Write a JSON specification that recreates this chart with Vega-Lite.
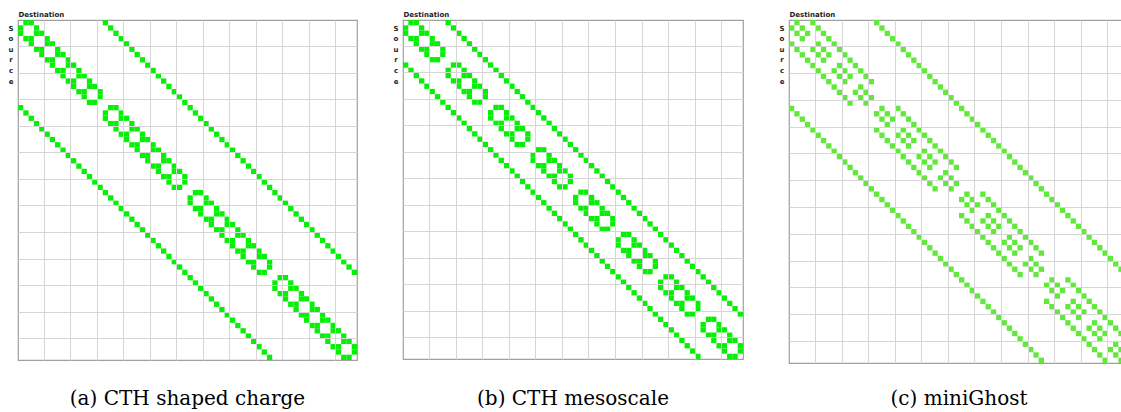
{
"$schema": "https://vega.github.io/schema/vega-lite/v6.json",
"background": "white",
"padding": {"left": 7, "top": 9, "right": 0, "bottom": 0},
"spacing": 34,
"config": {
  "view": {"stroke": "#a0a0a0", "strokeWidth": 1.2},
  "title": {"font": "DejaVu Serif", "fontSize": 20, "fontWeight": "normal", "color": "#000000", "orient": "bottom", "offset": 29},
  "axis": {"grid": true, "gridColor": "#d6d6d6", "gridWidth": 1, "labels": false, "ticks": false, "domain": false, "titleFont": "DejaVu Sans", "titleFontSize": 7, "titleFontWeight": "bold", "titleColor": "#222222"}
},
"datasets": {
"a": [
{"s":0,"d":1},{"s":0,"d":2},{"s":0,"d":16},
{"s":1,"d":0},{"s":1,"d":3},{"s":1,"d":17},
{"s":2,"d":3},{"s":2,"d":0},{"s":2,"d":4},{"s":2,"d":18},
{"s":3,"d":2},{"s":3,"d":1},{"s":3,"d":5},{"s":3,"d":19},
{"s":4,"d":5},{"s":4,"d":2},{"s":4,"d":6},{"s":4,"d":20},
{"s":5,"d":4},{"s":5,"d":3},{"s":5,"d":7},{"s":5,"d":21},
{"s":6,"d":7},{"s":6,"d":4},{"s":6,"d":8},{"s":6,"d":22},
{"s":7,"d":6},{"s":7,"d":5},{"s":7,"d":9},{"s":7,"d":23},
{"s":8,"d":9},{"s":8,"d":6},{"s":8,"d":10},{"s":8,"d":24},
{"s":9,"d":8},{"s":9,"d":7},{"s":9,"d":11},{"s":9,"d":25},
{"s":10,"d":11},{"s":10,"d":8},{"s":10,"d":12},{"s":10,"d":26},
{"s":11,"d":10},{"s":11,"d":9},{"s":11,"d":13},{"s":11,"d":27},
{"s":12,"d":13},{"s":12,"d":10},{"s":12,"d":14},{"s":12,"d":28},
{"s":13,"d":12},{"s":13,"d":11},{"s":13,"d":15},{"s":13,"d":29},
{"s":14,"d":15},{"s":14,"d":12},{"s":14,"d":30},
{"s":15,"d":14},{"s":15,"d":13},{"s":15,"d":31},
{"s":16,"d":17},{"s":16,"d":18},{"s":16,"d":0},{"s":16,"d":32},
{"s":17,"d":16},{"s":17,"d":19},{"s":17,"d":1},{"s":17,"d":33},
{"s":18,"d":19},{"s":18,"d":16},{"s":18,"d":20},{"s":18,"d":2},{"s":18,"d":34},
{"s":19,"d":18},{"s":19,"d":17},{"s":19,"d":21},{"s":19,"d":3},{"s":19,"d":35},
{"s":20,"d":21},{"s":20,"d":18},{"s":20,"d":22},{"s":20,"d":4},{"s":20,"d":36},
{"s":21,"d":20},{"s":21,"d":19},{"s":21,"d":23},{"s":21,"d":5},{"s":21,"d":37},
{"s":22,"d":23},{"s":22,"d":20},{"s":22,"d":24},{"s":22,"d":6},{"s":22,"d":38},
{"s":23,"d":22},{"s":23,"d":21},{"s":23,"d":25},{"s":23,"d":7},{"s":23,"d":39},
{"s":24,"d":25},{"s":24,"d":22},{"s":24,"d":26},{"s":24,"d":8},{"s":24,"d":40},
{"s":25,"d":24},{"s":25,"d":23},{"s":25,"d":27},{"s":25,"d":9},{"s":25,"d":41},
{"s":26,"d":27},{"s":26,"d":24},{"s":26,"d":28},{"s":26,"d":10},{"s":26,"d":42},
{"s":27,"d":26},{"s":27,"d":25},{"s":27,"d":29},{"s":27,"d":11},{"s":27,"d":43},
{"s":28,"d":29},{"s":28,"d":26},{"s":28,"d":30},{"s":28,"d":12},{"s":28,"d":44},
{"s":29,"d":28},{"s":29,"d":27},{"s":29,"d":31},{"s":29,"d":13},{"s":29,"d":45},
{"s":30,"d":31},{"s":30,"d":28},{"s":30,"d":14},{"s":30,"d":46},
{"s":31,"d":30},{"s":31,"d":29},{"s":31,"d":15},{"s":31,"d":47},
{"s":32,"d":33},{"s":32,"d":34},{"s":32,"d":16},{"s":32,"d":48},
{"s":33,"d":32},{"s":33,"d":35},{"s":33,"d":17},{"s":33,"d":49},
{"s":34,"d":35},{"s":34,"d":32},{"s":34,"d":36},{"s":34,"d":18},{"s":34,"d":50},
{"s":35,"d":34},{"s":35,"d":33},{"s":35,"d":37},{"s":35,"d":19},{"s":35,"d":51},
{"s":36,"d":37},{"s":36,"d":34},{"s":36,"d":38},{"s":36,"d":20},{"s":36,"d":52},
{"s":37,"d":36},{"s":37,"d":35},{"s":37,"d":39},{"s":37,"d":21},{"s":37,"d":53},
{"s":38,"d":39},{"s":38,"d":36},{"s":38,"d":40},{"s":38,"d":22},{"s":38,"d":54},
{"s":39,"d":38},{"s":39,"d":37},{"s":39,"d":41},{"s":39,"d":23},{"s":39,"d":55},
{"s":40,"d":41},{"s":40,"d":38},{"s":40,"d":42},{"s":40,"d":24},{"s":40,"d":56},
{"s":41,"d":40},{"s":41,"d":39},{"s":41,"d":43},{"s":41,"d":25},{"s":41,"d":57},
{"s":42,"d":43},{"s":42,"d":40},{"s":42,"d":44},{"s":42,"d":26},{"s":42,"d":58},
{"s":43,"d":42},{"s":43,"d":41},{"s":43,"d":45},{"s":43,"d":27},{"s":43,"d":59},
{"s":44,"d":45},{"s":44,"d":42},{"s":44,"d":46},{"s":44,"d":28},{"s":44,"d":60},
{"s":45,"d":44},{"s":45,"d":43},{"s":45,"d":47},{"s":45,"d":29},{"s":45,"d":61},
{"s":46,"d":47},{"s":46,"d":44},{"s":46,"d":30},{"s":46,"d":62},
{"s":47,"d":46},{"s":47,"d":45},{"s":47,"d":31},{"s":47,"d":63},
{"s":48,"d":49},{"s":48,"d":50},{"s":48,"d":32},
{"s":49,"d":48},{"s":49,"d":51},{"s":49,"d":33},
{"s":50,"d":51},{"s":50,"d":48},{"s":50,"d":52},{"s":50,"d":34},
{"s":51,"d":50},{"s":51,"d":49},{"s":51,"d":53},{"s":51,"d":35},
{"s":52,"d":53},{"s":52,"d":50},{"s":52,"d":54},{"s":52,"d":36},
{"s":53,"d":52},{"s":53,"d":51},{"s":53,"d":55},{"s":53,"d":37},
{"s":54,"d":55},{"s":54,"d":52},{"s":54,"d":56},{"s":54,"d":38},
{"s":55,"d":54},{"s":55,"d":53},{"s":55,"d":57},{"s":55,"d":39},
{"s":56,"d":57},{"s":56,"d":54},{"s":56,"d":58},{"s":56,"d":40},
{"s":57,"d":56},{"s":57,"d":55},{"s":57,"d":59},{"s":57,"d":41},
{"s":58,"d":59},{"s":58,"d":56},{"s":58,"d":60},{"s":58,"d":42},
{"s":59,"d":58},{"s":59,"d":57},{"s":59,"d":61},{"s":59,"d":43},
{"s":60,"d":61},{"s":60,"d":58},{"s":60,"d":62},{"s":60,"d":44},
{"s":61,"d":60},{"s":61,"d":59},{"s":61,"d":63},{"s":61,"d":45},
{"s":62,"d":63},{"s":62,"d":60},{"s":62,"d":46},
{"s":63,"d":62},{"s":63,"d":61},{"s":63,"d":47}
],
"b": [
{"s":0,"d":1},{"s":0,"d":2},{"s":0,"d":8},
{"s":1,"d":0},{"s":1,"d":3},{"s":1,"d":9},
{"s":2,"d":3},{"s":2,"d":0},{"s":2,"d":4},{"s":2,"d":10},
{"s":3,"d":2},{"s":3,"d":1},{"s":3,"d":5},{"s":3,"d":11},
{"s":4,"d":5},{"s":4,"d":2},{"s":4,"d":6},{"s":4,"d":12},
{"s":5,"d":4},{"s":5,"d":3},{"s":5,"d":7},{"s":5,"d":13},
{"s":6,"d":7},{"s":6,"d":4},{"s":6,"d":14},
{"s":7,"d":6},{"s":7,"d":5},{"s":7,"d":15},
{"s":8,"d":9},{"s":8,"d":10},{"s":8,"d":0},{"s":8,"d":16},
{"s":9,"d":8},{"s":9,"d":11},{"s":9,"d":1},{"s":9,"d":17},
{"s":10,"d":11},{"s":10,"d":8},{"s":10,"d":12},{"s":10,"d":2},{"s":10,"d":18},
{"s":11,"d":10},{"s":11,"d":9},{"s":11,"d":13},{"s":11,"d":3},{"s":11,"d":19},
{"s":12,"d":13},{"s":12,"d":10},{"s":12,"d":14},{"s":12,"d":4},{"s":12,"d":20},
{"s":13,"d":12},{"s":13,"d":11},{"s":13,"d":15},{"s":13,"d":5},{"s":13,"d":21},
{"s":14,"d":15},{"s":14,"d":12},{"s":14,"d":6},{"s":14,"d":22},
{"s":15,"d":14},{"s":15,"d":13},{"s":15,"d":7},{"s":15,"d":23},
{"s":16,"d":17},{"s":16,"d":18},{"s":16,"d":8},{"s":16,"d":24},
{"s":17,"d":16},{"s":17,"d":19},{"s":17,"d":9},{"s":17,"d":25},
{"s":18,"d":19},{"s":18,"d":16},{"s":18,"d":20},{"s":18,"d":10},{"s":18,"d":26},
{"s":19,"d":18},{"s":19,"d":17},{"s":19,"d":21},{"s":19,"d":11},{"s":19,"d":27},
{"s":20,"d":21},{"s":20,"d":18},{"s":20,"d":22},{"s":20,"d":12},{"s":20,"d":28},
{"s":21,"d":20},{"s":21,"d":19},{"s":21,"d":23},{"s":21,"d":13},{"s":21,"d":29},
{"s":22,"d":23},{"s":22,"d":20},{"s":22,"d":14},{"s":22,"d":30},
{"s":23,"d":22},{"s":23,"d":21},{"s":23,"d":15},{"s":23,"d":31},
{"s":24,"d":25},{"s":24,"d":26},{"s":24,"d":16},{"s":24,"d":32},
{"s":25,"d":24},{"s":25,"d":27},{"s":25,"d":17},{"s":25,"d":33},
{"s":26,"d":27},{"s":26,"d":24},{"s":26,"d":28},{"s":26,"d":18},{"s":26,"d":34},
{"s":27,"d":26},{"s":27,"d":25},{"s":27,"d":29},{"s":27,"d":19},{"s":27,"d":35},
{"s":28,"d":29},{"s":28,"d":26},{"s":28,"d":30},{"s":28,"d":20},{"s":28,"d":36},
{"s":29,"d":28},{"s":29,"d":27},{"s":29,"d":31},{"s":29,"d":21},{"s":29,"d":37},
{"s":30,"d":31},{"s":30,"d":28},{"s":30,"d":22},{"s":30,"d":38},
{"s":31,"d":30},{"s":31,"d":29},{"s":31,"d":23},{"s":31,"d":39},
{"s":32,"d":33},{"s":32,"d":34},{"s":32,"d":24},{"s":32,"d":40},
{"s":33,"d":32},{"s":33,"d":35},{"s":33,"d":25},{"s":33,"d":41},
{"s":34,"d":35},{"s":34,"d":32},{"s":34,"d":36},{"s":34,"d":26},{"s":34,"d":42},
{"s":35,"d":34},{"s":35,"d":33},{"s":35,"d":37},{"s":35,"d":27},{"s":35,"d":43},
{"s":36,"d":37},{"s":36,"d":34},{"s":36,"d":38},{"s":36,"d":28},{"s":36,"d":44},
{"s":37,"d":36},{"s":37,"d":35},{"s":37,"d":39},{"s":37,"d":29},{"s":37,"d":45},
{"s":38,"d":39},{"s":38,"d":36},{"s":38,"d":30},{"s":38,"d":46},
{"s":39,"d":38},{"s":39,"d":37},{"s":39,"d":31},{"s":39,"d":47},
{"s":40,"d":41},{"s":40,"d":42},{"s":40,"d":32},{"s":40,"d":48},
{"s":41,"d":40},{"s":41,"d":43},{"s":41,"d":33},{"s":41,"d":49},
{"s":42,"d":43},{"s":42,"d":40},{"s":42,"d":44},{"s":42,"d":34},{"s":42,"d":50},
{"s":43,"d":42},{"s":43,"d":41},{"s":43,"d":45},{"s":43,"d":35},{"s":43,"d":51},
{"s":44,"d":45},{"s":44,"d":42},{"s":44,"d":46},{"s":44,"d":36},{"s":44,"d":52},
{"s":45,"d":44},{"s":45,"d":43},{"s":45,"d":47},{"s":45,"d":37},{"s":45,"d":53},
{"s":46,"d":47},{"s":46,"d":44},{"s":46,"d":38},{"s":46,"d":54},
{"s":47,"d":46},{"s":47,"d":45},{"s":47,"d":39},{"s":47,"d":55},
{"s":48,"d":49},{"s":48,"d":50},{"s":48,"d":40},{"s":48,"d":56},
{"s":49,"d":48},{"s":49,"d":51},{"s":49,"d":41},{"s":49,"d":57},
{"s":50,"d":51},{"s":50,"d":48},{"s":50,"d":52},{"s":50,"d":42},{"s":50,"d":58},
{"s":51,"d":50},{"s":51,"d":49},{"s":51,"d":53},{"s":51,"d":43},{"s":51,"d":59},
{"s":52,"d":53},{"s":52,"d":50},{"s":52,"d":54},{"s":52,"d":44},{"s":52,"d":60},
{"s":53,"d":52},{"s":53,"d":51},{"s":53,"d":55},{"s":53,"d":45},{"s":53,"d":61},
{"s":54,"d":55},{"s":54,"d":52},{"s":54,"d":46},{"s":54,"d":62},
{"s":55,"d":54},{"s":55,"d":53},{"s":55,"d":47},{"s":55,"d":63},
{"s":56,"d":57},{"s":56,"d":58},{"s":56,"d":48},
{"s":57,"d":56},{"s":57,"d":59},{"s":57,"d":49},
{"s":58,"d":59},{"s":58,"d":56},{"s":58,"d":60},{"s":58,"d":50},
{"s":59,"d":58},{"s":59,"d":57},{"s":59,"d":61},{"s":59,"d":51},
{"s":60,"d":61},{"s":60,"d":58},{"s":60,"d":62},{"s":60,"d":52},
{"s":61,"d":60},{"s":61,"d":59},{"s":61,"d":63},{"s":61,"d":53},
{"s":62,"d":63},{"s":62,"d":60},{"s":62,"d":54},
{"s":63,"d":62},{"s":63,"d":61},{"s":63,"d":55}
],
"c": [
{"s":0,"d":1},{"s":0,"d":4},{"s":0,"d":16},
{"s":1,"d":0},{"s":1,"d":2},{"s":1,"d":5},{"s":1,"d":17},
{"s":2,"d":1},{"s":2,"d":3},{"s":2,"d":6},{"s":2,"d":18},
{"s":3,"d":2},{"s":3,"d":7},{"s":3,"d":19},
{"s":4,"d":5},{"s":4,"d":0},{"s":4,"d":8},{"s":4,"d":20},
{"s":5,"d":4},{"s":5,"d":6},{"s":5,"d":1},{"s":5,"d":9},{"s":5,"d":21},
{"s":6,"d":5},{"s":6,"d":7},{"s":6,"d":2},{"s":6,"d":10},{"s":6,"d":22},
{"s":7,"d":6},{"s":7,"d":3},{"s":7,"d":11},{"s":7,"d":23},
{"s":8,"d":9},{"s":8,"d":4},{"s":8,"d":12},{"s":8,"d":24},
{"s":9,"d":8},{"s":9,"d":10},{"s":9,"d":5},{"s":9,"d":13},{"s":9,"d":25},
{"s":10,"d":9},{"s":10,"d":11},{"s":10,"d":6},{"s":10,"d":14},{"s":10,"d":26},
{"s":11,"d":10},{"s":11,"d":7},{"s":11,"d":15},{"s":11,"d":27},
{"s":12,"d":13},{"s":12,"d":8},{"s":12,"d":28},
{"s":13,"d":12},{"s":13,"d":14},{"s":13,"d":9},{"s":13,"d":29},
{"s":14,"d":13},{"s":14,"d":15},{"s":14,"d":10},{"s":14,"d":30},
{"s":15,"d":14},{"s":15,"d":11},{"s":15,"d":31},
{"s":16,"d":17},{"s":16,"d":20},{"s":16,"d":0},{"s":16,"d":32},
{"s":17,"d":16},{"s":17,"d":18},{"s":17,"d":21},{"s":17,"d":1},{"s":17,"d":33},
{"s":18,"d":17},{"s":18,"d":19},{"s":18,"d":22},{"s":18,"d":2},{"s":18,"d":34},
{"s":19,"d":18},{"s":19,"d":23},{"s":19,"d":3},{"s":19,"d":35},
{"s":20,"d":21},{"s":20,"d":16},{"s":20,"d":24},{"s":20,"d":4},{"s":20,"d":36},
{"s":21,"d":20},{"s":21,"d":22},{"s":21,"d":17},{"s":21,"d":25},{"s":21,"d":5},{"s":21,"d":37},
{"s":22,"d":21},{"s":22,"d":23},{"s":22,"d":18},{"s":22,"d":26},{"s":22,"d":6},{"s":22,"d":38},
{"s":23,"d":22},{"s":23,"d":19},{"s":23,"d":27},{"s":23,"d":7},{"s":23,"d":39},
{"s":24,"d":25},{"s":24,"d":20},{"s":24,"d":28},{"s":24,"d":8},{"s":24,"d":40},
{"s":25,"d":24},{"s":25,"d":26},{"s":25,"d":21},{"s":25,"d":29},{"s":25,"d":9},{"s":25,"d":41},
{"s":26,"d":25},{"s":26,"d":27},{"s":26,"d":22},{"s":26,"d":30},{"s":26,"d":10},{"s":26,"d":42},
{"s":27,"d":26},{"s":27,"d":23},{"s":27,"d":31},{"s":27,"d":11},{"s":27,"d":43},
{"s":28,"d":29},{"s":28,"d":24},{"s":28,"d":12},{"s":28,"d":44},
{"s":29,"d":28},{"s":29,"d":30},{"s":29,"d":25},{"s":29,"d":13},{"s":29,"d":45},
{"s":30,"d":29},{"s":30,"d":31},{"s":30,"d":26},{"s":30,"d":14},{"s":30,"d":46},
{"s":31,"d":30},{"s":31,"d":27},{"s":31,"d":15},{"s":31,"d":47},
{"s":32,"d":33},{"s":32,"d":36},{"s":32,"d":16},{"s":32,"d":48},
{"s":33,"d":32},{"s":33,"d":34},{"s":33,"d":37},{"s":33,"d":17},{"s":33,"d":49},
{"s":34,"d":33},{"s":34,"d":35},{"s":34,"d":38},{"s":34,"d":18},{"s":34,"d":50},
{"s":35,"d":34},{"s":35,"d":39},{"s":35,"d":19},{"s":35,"d":51},
{"s":36,"d":37},{"s":36,"d":32},{"s":36,"d":40},{"s":36,"d":20},{"s":36,"d":52},
{"s":37,"d":36},{"s":37,"d":38},{"s":37,"d":33},{"s":37,"d":41},{"s":37,"d":21},{"s":37,"d":53},
{"s":38,"d":37},{"s":38,"d":39},{"s":38,"d":34},{"s":38,"d":42},{"s":38,"d":22},{"s":38,"d":54},
{"s":39,"d":38},{"s":39,"d":35},{"s":39,"d":43},{"s":39,"d":23},{"s":39,"d":55},
{"s":40,"d":41},{"s":40,"d":36},{"s":40,"d":44},{"s":40,"d":24},{"s":40,"d":56},
{"s":41,"d":40},{"s":41,"d":42},{"s":41,"d":37},{"s":41,"d":45},{"s":41,"d":25},{"s":41,"d":57},
{"s":42,"d":41},{"s":42,"d":43},{"s":42,"d":38},{"s":42,"d":46},{"s":42,"d":26},{"s":42,"d":58},
{"s":43,"d":42},{"s":43,"d":39},{"s":43,"d":47},{"s":43,"d":27},{"s":43,"d":59},
{"s":44,"d":45},{"s":44,"d":40},{"s":44,"d":28},{"s":44,"d":60},
{"s":45,"d":44},{"s":45,"d":46},{"s":45,"d":41},{"s":45,"d":29},{"s":45,"d":61},
{"s":46,"d":45},{"s":46,"d":47},{"s":46,"d":42},{"s":46,"d":30},{"s":46,"d":62},
{"s":47,"d":46},{"s":47,"d":43},{"s":47,"d":31},{"s":47,"d":63},
{"s":48,"d":49},{"s":48,"d":52},{"s":48,"d":32},
{"s":49,"d":48},{"s":49,"d":50},{"s":49,"d":53},{"s":49,"d":33},
{"s":50,"d":49},{"s":50,"d":51},{"s":50,"d":54},{"s":50,"d":34},
{"s":51,"d":50},{"s":51,"d":55},{"s":51,"d":35},
{"s":52,"d":53},{"s":52,"d":48},{"s":52,"d":56},{"s":52,"d":36},
{"s":53,"d":52},{"s":53,"d":54},{"s":53,"d":49},{"s":53,"d":57},{"s":53,"d":37},
{"s":54,"d":53},{"s":54,"d":55},{"s":54,"d":50},{"s":54,"d":58},{"s":54,"d":38},
{"s":55,"d":54},{"s":55,"d":51},{"s":55,"d":59},{"s":55,"d":39},
{"s":56,"d":57},{"s":56,"d":52},{"s":56,"d":60},{"s":56,"d":40},
{"s":57,"d":56},{"s":57,"d":58},{"s":57,"d":53},{"s":57,"d":61},{"s":57,"d":41},
{"s":58,"d":57},{"s":58,"d":59},{"s":58,"d":54},{"s":58,"d":62},{"s":58,"d":42},
{"s":59,"d":58},{"s":59,"d":55},{"s":59,"d":63},{"s":59,"d":43},
{"s":60,"d":61},{"s":60,"d":56},{"s":60,"d":44},
{"s":61,"d":60},{"s":61,"d":62},{"s":61,"d":57},{"s":61,"d":45},
{"s":62,"d":61},{"s":62,"d":63},{"s":62,"d":58},{"s":62,"d":46},
{"s":63,"d":62},{"s":63,"d":59},{"s":63,"d":47}
]
},
"hconcat": [
{
  "width": 339, "height": 340,
  "data": {"name": "a"},
  "title": {"text": "(a) CTH shaped charge"},
  "mark": {"type": "rect", "color": "#08ee08"},
  "encoding": {
    "x": {"field": "d", "type": "ordinal", "scale": {"domain": [0,1,2,3,4,5,6,7,8,9,10,11,12,13,14,15,16,17,18,19,20,21,22,23,24,25,26,27,28,29,30,31,32,33,34,35,36,37,38,39,40,41,42,43,44,45,46,47,48,49,50,51,52,53,54,55,56,57,58,59,60,61,62,63], "paddingInner": 0, "paddingOuter": 0},
      "axis": {"orient": "top", "title": "Destination", "values": [5,10,15,20,25,30,35,40,45,50,55,60], "bandPosition": 0, "titleAnchor": "start", "titleAlign": "left", "titlePadding": 3}},
    "y": {"field": "s", "type": "ordinal", "scale": {"domain": [0,1,2,3,4,5,6,7,8,9,10,11,12,13,14,15,16,17,18,19,20,21,22,23,24,25,26,27,28,29,30,31,32,33,34,35,36,37,38,39,40,41,42,43,44,45,46,47,48,49,50,51,52,53,54,55,56,57,58,59,60,61,62,63], "paddingInner": 0, "paddingOuter": 0},
      "axis": {"title": ["S","o","u","r","c","e"], "values": [5,10,15,20,25,30,35,40,45,50,55,60], "bandPosition": 0, "titleAngle": 0, "titleAlign": "center", "titleBaseline": "top", "titleLineHeight": 10.6, "titleX": -7.5, "titleY": 4}}
  }
},
{
  "width": 340, "height": 339,
  "data": {"name": "b"},
  "title": {"text": "(b) CTH mesoscale", "offset": 30},
  "mark": {"type": "rect", "color": "#08ee08"},
  "encoding": {
    "x": {"field": "d", "type": "ordinal", "scale": {"domain": [0,1,2,3,4,5,6,7,8,9,10,11,12,13,14,15,16,17,18,19,20,21,22,23,24,25,26,27,28,29,30,31,32,33,34,35,36,37,38,39,40,41,42,43,44,45,46,47,48,49,50,51,52,53,54,55,56,57,58,59,60,61,62,63], "paddingInner": 0, "paddingOuter": 0},
      "axis": {"orient": "top", "title": "Destination", "values": [5,10,15,20,25,30,35,40,45,50,55,60], "bandPosition": 0, "titleAnchor": "start", "titleAlign": "left", "titlePadding": 3}},
    "y": {"field": "s", "type": "ordinal", "scale": {"domain": [0,1,2,3,4,5,6,7,8,9,10,11,12,13,14,15,16,17,18,19,20,21,22,23,24,25,26,27,28,29,30,31,32,33,34,35,36,37,38,39,40,41,42,43,44,45,46,47,48,49,50,51,52,53,54,55,56,57,58,59,60,61,62,63], "paddingInner": 0, "paddingOuter": 0},
      "axis": {"title": ["S","o","u","r","c","e"], "values": [5,10,15,20,25,30,35,40,45,50,55,60], "bandPosition": 0, "titleAngle": 0, "titleAlign": "center", "titleBaseline": "top", "titleLineHeight": 10.6, "titleX": -7.5, "titleY": 4}}
  }
},
{
  "width": 340, "height": 343,
  "data": {"name": "c"},
  "title": {"text": "(c) miniGhost", "offset": 26},
  "mark": {"type": "rect", "color": "#62e83c"},
  "encoding": {
    "x": {"field": "d", "type": "ordinal", "scale": {"domain": [0,1,2,3,4,5,6,7,8,9,10,11,12,13,14,15,16,17,18,19,20,21,22,23,24,25,26,27,28,29,30,31,32,33,34,35,36,37,38,39,40,41,42,43,44,45,46,47,48,49,50,51,52,53,54,55,56,57,58,59,60,61,62,63], "paddingInner": 0, "paddingOuter": 0},
      "axis": {"orient": "top", "title": "Destination", "values": [5,10,15,20,25,30,35,40,45,50,55,60], "bandPosition": 0, "titleAnchor": "start", "titleAlign": "left", "titlePadding": 3}},
    "y": {"field": "s", "type": "ordinal", "scale": {"domain": [0,1,2,3,4,5,6,7,8,9,10,11,12,13,14,15,16,17,18,19,20,21,22,23,24,25,26,27,28,29,30,31,32,33,34,35,36,37,38,39,40,41,42,43,44,45,46,47,48,49,50,51,52,53,54,55,56,57,58,59,60,61,62,63], "paddingInner": 0, "paddingOuter": 0},
      "axis": {"title": ["S","o","u","r","c","e"], "values": [5,10,15,20,25,30,35,40,45,50,55,60], "bandPosition": 0, "titleAngle": 0, "titleAlign": "center", "titleBaseline": "top", "titleLineHeight": 10.6, "titleX": -7.5, "titleY": 4}}
  }
}
]
}
